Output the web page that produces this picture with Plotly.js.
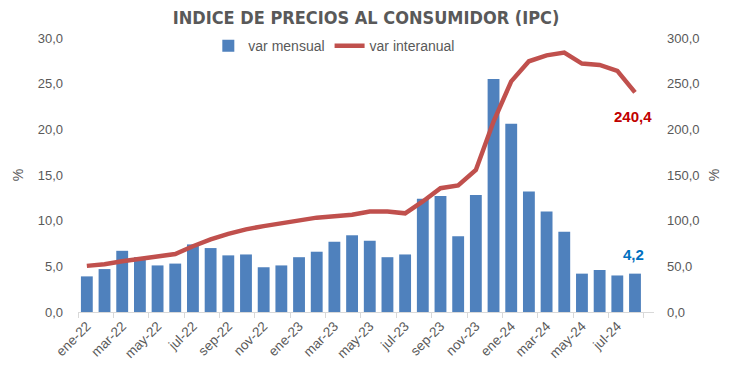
<!DOCTYPE html>
<html>
<head>
<meta charset="utf-8">
<script src="https://cdn.plot.ly/plotly-3.0.1.min.js"></script>
<style>html,body{margin:0;padding:0;background:#fff}#chart{width:741px;height:391px}</style>
</head>
<body>
<div id="chart"></div>
<script>
const months = ["ene-22","feb-22","mar-22","abr-22","may-22","jun-22","jul-22","ago-22","sep-22","oct-22","nov-22","dic-22",
  "ene-23","feb-23","mar-23","abr-23","may-23","jun-23","jul-23","ago-23","sep-23","oct-23","nov-23","dic-23",
  "ene-24","feb-24","mar-24","abr-24","may-24","jun-24","jul-24","ago-24"];
const varMensual = [3.9,4.7,6.7,6.0,5.1,5.3,7.4,7.0,6.2,6.3,4.9,5.1,
  6.0,6.6,7.7,8.4,7.8,6.0,6.3,12.4,12.7,8.3,12.8,25.5,
  20.6,13.2,11.0,8.8,4.2,4.6,4.0,4.2];
const varInteranual = [50.5,52.3,55.5,58.2,61.0,63.5,72.0,79.5,85.5,90.5,94.0,97.5,
  100.8,103.3,104.8,106.5,110.0,110.0,108.0,121.0,135.5,138.5,155.5,208.5,
  252.5,274.5,281.0,284.0,272.0,270.5,264.0,240.4];
const legendNames = ["var mensual","var interanual"];
const chartTitle = "INDICE DE PRECIOS AL CONSUMIDOR (IPC)";

const gray = "#595959";
const fmt = v => v.toFixed(1).replace(".", ",");
const last = months.length - 1;

const traces = [
  {type:"bar", x:months, y:varMensual, name:legendNames[0], marker:{color:"#4F81BD"}, yaxis:"y", hoverinfo:"skip"},
  {type:"scatter", mode:"lines", x:months, y:varInteranual, name:legendNames[1], line:{color:"#C0504D", width:4.5}, yaxis:"y2", hoverinfo:"skip"}
];

const tickFont = {family:"Liberation Sans, Arial, sans-serif", size:13, color:gray};

const layout = {
  width:741, height:391,
  margin:{l:78, r:87, t:38, b:79},
  paper_bgcolor:"#fff", plot_bgcolor:"#fff",
  separators:",.",
  bargap:0.33,
  showlegend:true,
  title:{text:"<b>"+chartTitle+"</b>", x:0.5, xref:"paper", y:0.955, yanchor:"middle",
    font:{family:"DejaVu Sans Condensed, Liberation Sans Narrow, Arial Narrow, sans-serif", size:18, color:gray}},
  legend:{orientation:"h", x:0.445, xanchor:"center", y:0.97, yanchor:"middle",
    font:{family:"Liberation Sans, Arial, sans-serif", size:14, color:gray}, bgcolor:"rgba(0,0,0,0)", itemwidth:30},
  xaxis:{type:"category", tickangle:-45, dtick:2, tickson:"boundaries", ticks:"outside", ticklen:5, tickcolor:"#D9D9D9",
    showline:true, linecolor:"#D9D9D9", linewidth:1, showgrid:false,
    tickfont:{family:"Liberation Sans, Arial, sans-serif", size:13.5, color:gray}, zeroline:false},
  yaxis:{range:[0,30], dtick:5, tickformat:".1f", showgrid:false, zeroline:false, showline:false, ticks:"",
    tickfont:tickFont, ticklabelstandoff:14,
    title:{text:"%", font:{family:"Liberation Sans, Arial, sans-serif", size:14, color:gray}, standoff:10}},
  yaxis2:{range:[0,300], dtick:50, tickformat:".1f", overlaying:"y", side:"right", showgrid:false, zeroline:false, showline:false, ticks:"",
    tickfont:tickFont, ticklabelstandoff:12,
    title:{text:"%", font:{family:"Liberation Sans, Arial, sans-serif", size:14, color:gray}, standoff:10}},
  annotations:[
    {x:months[last], y:varInteranual[last], xref:"x", yref:"y2", text:"<b>"+fmt(varInteranual[last])+"</b>", showarrow:false,
      yshift:-24, xshift:-2, font:{family:"Liberation Sans, Arial, sans-serif", size:15, color:"#C00000"}},
    {x:months[last], y:varMensual[last], xref:"x", yref:"y", text:"<b>"+fmt(varMensual[last])+"</b>", showarrow:false,
      yshift:19, xshift:-2, font:{family:"Liberation Sans, Arial, sans-serif", size:15, color:"#0070C0"}}
  ]
};

Plotly.newPlot("chart", traces, layout, {displayModeBar:false, staticPlot:true});
</script>
</body>
</html>
